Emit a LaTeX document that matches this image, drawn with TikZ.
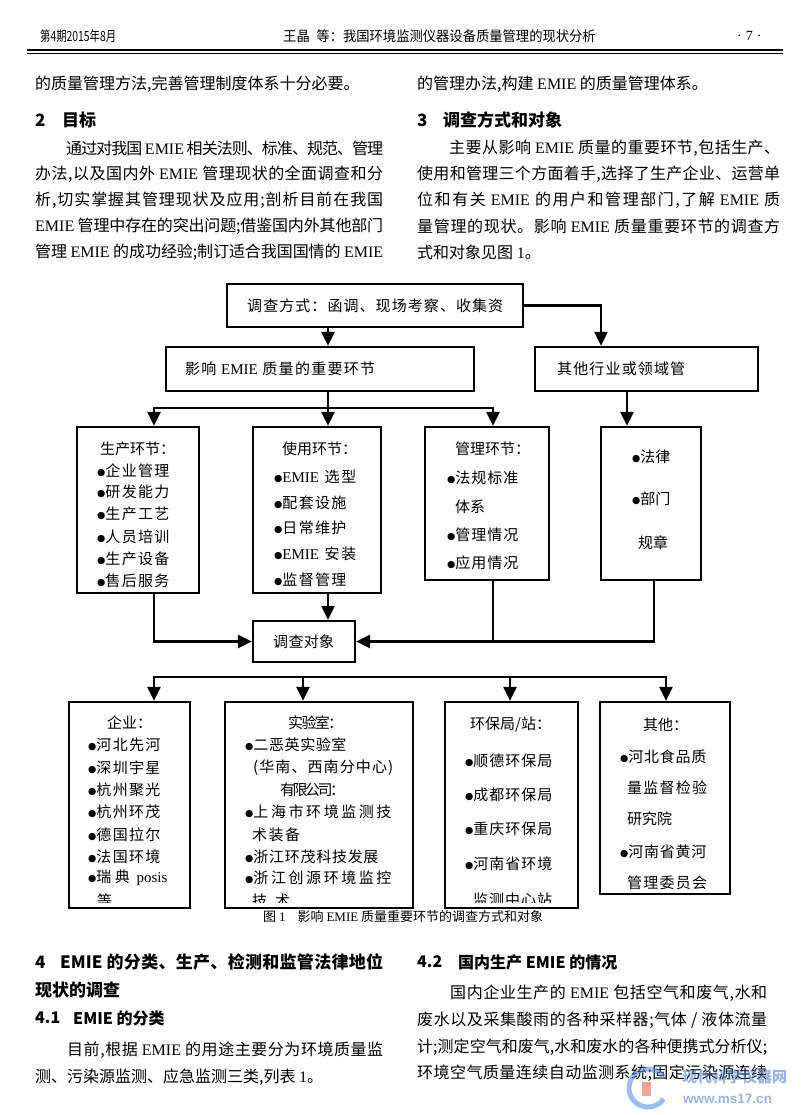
\documentclass[tikz,border=0pt]{standalone}
\usepackage{fontspec}
\setmainfont{Liberation Serif}
\newfontfamily\cjk{Noto Sans CJK SC}
\newfontfamily\dejavu{DejaVu Sans}
\newfontfamily\lsans{Liberation Sans}
\usetikzlibrary{arrows.meta}
\newcommand\EM{{\rmfamily EMIE}}
\newcommand\bul{\raisebox{1.2pt}{\dejavu\fontsize{9.5pt}{10pt}\selectfont ●}}
\def\jlfirst#1{{#1}\jlrest}
\def\jlrest#1{\ifx\relax#1\else\hskip0pt plus1fil minus1fil{#1}\expandafter\jlrest\fi}
\newcommand\jl[2]{\hbox to #1{\jlfirst#2\relax}}
\newcommand\bi[2]{\bul\jl{#1}{#2}}
\tikzset{
  bx/.style={draw, line width=2.2pt, inner sep=0pt},
  arr/.style={line width=2.6pt, -{Triangle[width=13pt,length=14pt]}},
  ln/.style={line width=2.6pt},
  dt/.style={anchor=west, inner sep=0pt, font=\cjk\fontsize{15pt}{18pt}\selectfont},
  bt/.style={anchor=west, inner sep=0pt, font=\cjk\fontsize{16pt}{19pt}\selectfont},
  hd/.style={anchor=west, inner sep=0pt, font=\cjk\bfseries\fontsize{17pt}{20pt}\selectfont},
  hs/.style={anchor=west, inner sep=0pt, font=\cjk\bfseries\fontsize{16pt}{19pt}\selectfont},
  hdr/.style={anchor=west, inner sep=0pt, font=\cjk\fontsize{14pt}{16pt}\selectfont},
}
\begin{document}
\begin{tikzpicture}[x=1pt,y=-1pt]
\useasboundingbox (0,0) rectangle (800,1115);
\fill[white] (0,0) rectangle (800,1115);

% ---------- running header ----------
\node[hdr] (hl) at (40,36) {\scalebox{0.74}[1]{第4期2015年8月}};
\node[hdr] (hm) at (283,36) {\scalebox{0.95}[1]{王晶\hspace{7pt}等：我国环境监测仪器设备质量管理的现状分析}};
\node[hdr, font=\rmfamily\fontsize{14pt}{16pt}\selectfont] (hr) at (737,36) {·\hspace{4pt}7\hspace{4pt}·};
\draw[line width=2pt] (27,50) -- (783,50);
\draw[line width=0.8pt] (27,53.5) -- (783,53.5);

% ---------- top text ----------
\node[bt] (l0) at (35,84) {的质量管理方法,完善管理制度体系十分必要。};
\node[hd] (l2n) at (35,120) {2};
\node[hd] (l2t) at (62,120) {目标};
\node[bt] (l1) at (66,148) {\jl{317pt}{通过对我国{\ \EM\ }相关法则、标准、规范、管理}};
\node[bt] (l2) at (35,174) {\jl{348pt}{办法,以及国内外{\ \EM\ }管理现状的全面调查和分}};
\node[bt] (l3) at (35,200) {\jl{348pt}{析,切实掌握其管理现状及应用;剖析目前在我国}};
\node[bt] (l4) at (35,226) {\jl{348pt}{{\EM\ }管理中存在的突出问题;借鉴国内外其他部门}};
\node[bt] (l5) at (35,252) {\jl{348pt}{管理{\ \EM\ }的成功经验;制订适合我国国情的{\ \EM}}};

\node[bt] (r0) at (417,84) {的管理办法,构建 \EM{} 的质量管理体系。};
\node[hd] (r3n) at (417,120) {3};
\node[hd] (r3t) at (443,120) {调查方式和对象};
\node[bt] (r1) at (449,148) {\jl{331pt}{主要从影响{\ \EM\ }质量的重要环节,包括生产、}};
\node[bt] (r2) at (417,174) {\jl{363pt}{使用和管理三个方面着手,选择了生产企业、运营单}};
\node[bt] (r3) at (417,200) {\jl{363pt}{位和有关{\ \EM\ }的用户和管理部门,了解{\ \EM\ }质}};
\node[bt] (r4) at (417,226) {\jl{363pt}{量管理的现状。影响{\ \EM\ }质量重要环节的调查方}};
\node[bt] (r5) at (417,252) {式和对象见图 {\rmfamily 1}。};

% ---------- diagram boxes ----------
\node[bx, minimum width=296pt, minimum height=43pt] (A) at (375,305.5) {};
\node[bx, minimum width=308pt, minimum height=44pt] (B) at (320,369) {};
\node[bx, minimum width=223pt, minimum height=44pt] (C) at (646.5,369) {};
\node[bx, minimum width=122pt, minimum height=166pt] (D1) at (138,510) {};
\node[bx, minimum width=128pt, minimum height=166pt] (D2) at (317,510) {};
\node[bx, minimum width=124pt, minimum height=153pt] (D3) at (487,503.5) {};
\node[bx, minimum width=100pt, minimum height=153pt] (D4) at (651,503.5) {};
\node[bx, minimum width=102pt, minimum height=41pt] (E) at (304,641.5) {};
\node[bx, minimum width=121pt, minimum height=206pt] (F1) at (129.5,805) {};
\node[bx, minimum width=188pt, minimum height=206pt] (F2) at (319,805) {};
\node[bx, minimum width=133pt, minimum height=206pt] (F3) at (511.5,805) {};
\node[bx, minimum width=130pt, minimum height=192pt] (F4) at (665,798) {};

% ---------- diagram texts ----------
\node[dt] (at) at (247,305.5) {\jl{256pt}{调查方式：函调、现场考察、收集资}};
\node[dt] (bt) at (185,369) {\jl{190pt}{影响{\ \EM\ }质量的重要环节}};
\node[dt] (ct) at (557,369) {\jl{128pt}{其他行业或领域管}};

\node[dt] (d1h) at (100,449) {生产环节：};
\node[dt] (d1a) at (97,471) {\bi{64pt}{企业管理}};
\node[dt] (d1b) at (97,492) {\bi{64pt}{研发能力}};
\node[dt] (d1c) at (97,514) {\bi{64pt}{生产工艺}};
\node[dt] (d1d) at (97,537) {\bi{64pt}{人员培训}};
\node[dt] (d1e) at (97,559) {\bi{64pt}{生产设备}};
\node[dt] (d1f) at (97,581) {\bi{64pt}{售后服务}};

\node[dt] (d2h) at (282,449) {使用环节：};
\node[dt] (d2a) at (274,477) {\bi{74pt}{{\EM\ }选型}};
\node[dt] (d2b) at (274,503) {\bi{64pt}{配套设施}};
\node[dt] (d2c) at (274,528) {\bi{64pt}{日常维护}};
\node[dt] (d2d) at (274,554) {\bi{74pt}{{\EM\ }安装}};
\node[dt] (d2e) at (274,580) {\bi{64pt}{监督管理}};

\node[dt] (d3h) at (455,449) {管理环节：};
\node[dt] (d3a) at (447,478) {\bi{63pt}{法规标准}};
\node[dt] (d3b) at (455,507) {体系};
\node[dt] (d3c) at (447,535) {\bi{63pt}{管理情况}};
\node[dt] (d3d) at (447,563) {\bi{63pt}{应用情况}};

\node[dt] (d4a) at (632,457) {\bul 法律};
\node[dt] (d4b) at (632,499) {\bul 部门};
\node[dt] (d4c) at (638,543) {规章};

\node[dt] (et) at (273,642) {\jl{61pt}{调查对象}};

\node[dt] (f1h) at (107,723) {企业：};
\node[dt] (f1a) at (88,745) {\bi{64pt}{河北先河}};
\node[dt] (f1b) at (88,768) {\bi{64pt}{深圳宇星}};
\node[dt] (f1c) at (88,790) {\bi{64pt}{杭州聚光}};
\node[dt] (f1d) at (88,812) {\bi{64pt}{杭州环茂}};
\node[dt] (f1e) at (88,835) {\bi{64pt}{德国拉尔}};
\node[dt] (f1f) at (88,857) {\bi{64pt}{法国环境}};
\node[dt] (f1g) at (88,878) {\bi{71pt}{瑞典{\ \rmfamily posis}}};

\node[dt] (f2h) at (288,723) {\jl{55pt}{实验室：}};
\node[dt] (f2a) at (245,745) {\bi{93pt}{二恶英实验室}};
\node[dt] (f2b) at (253,768) {\jl{140pt}{(华南、西南分中心)}};
\node[dt] (f2c) at (280,790) {\jl{65pt}{有限公司：}};
\node[dt] (f2d) at (245,812) {\bi{138pt}{上海市环境监测技}};
\node[dt] (f2e) at (252,835) {\jl{48pt}{术装备}};
\node[dt] (f2f) at (245,857) {\bi{125pt}{浙江环茂科技发展}};
\node[dt] (f2g) at (245,878) {\bi{138pt}{浙江创源环境监控}};

\node[dt] (f3h) at (470,725) {环保局/站：};
\node[dt] (f3a) at (465,761) {\bi{79pt}{顺德环保局}};
\node[dt] (f3b) at (465,795) {\bi{79pt}{成都环保局}};
\node[dt] (f3c) at (465,829) {\bi{79pt}{重庆环保局}};
\node[dt] (f3d) at (465,864) {\bi{79pt}{河南省环境}};

\node[dt] (f4h) at (643,725) {其他：};
\node[dt] (f4a) at (620,757) {\bi{78pt}{河北食品质}};
\node[dt] (f4b) at (627,788) {\jl{80pt}{量监督检验}};
\node[dt] (f4c) at (627,819) {研究院};
\node[dt] (f4d) at (620,852) {\bi{78pt}{河南省黄河}};
\node[dt] (f4e) at (627,883) {\jl{80pt}{管理委员会}};

\begin{scope}
\clip (60,880) rectangle (740,902.5);
\node[dt] (f1i) at (97,901) {等};
\node[dt] (f2i) at (252,901) {\jl{38pt}{技术}};
\node[dt] (f3e) at (473,900) {\jl{79pt}{监测中心站}};
\end{scope}

\node[anchor=west, inner sep=0pt, font=\cjk\fontsize{13pt}{15pt}\selectfont] (cap) at (263,917)
  {图 {\rmfamily 1}\hspace{12pt}影响 \EM{} 质量重要环节的调查方式和对象};

% ---------- connectors ----------
\coordinate (xa) at (328,0);
\coordinate (xc) at (601,0);
\coordinate (ja) at (328,408);
\coordinate (x1) at (154,0);
\coordinate (x3) at (493,0);
\coordinate (x4) at (627,0);
\coordinate (x4b) at (654,0);
\coordinate (kb) at (303,677);
\coordinate (k3) at (510,0);
\coordinate (k4) at (666,0);

\draw[arr] (A.south -| xa) -- (B.north -| xa);
\draw[arr] (A.east) -| (C.north -| xc);
\draw[arr] (B.south -| xa) -- (D2.north -| xa);
\draw[arr] (ja) -| (D1.north -| x1);
\draw[arr] (ja) -| (D3.north -| x3);
\draw[arr] (C.south -| x4) -- (D4.north -| x4);
\draw[arr] (D1.south -| x1) |- (E.west);
\draw[arr] (D2.south -| xa) -- (E.north -| xa);
\draw[arr] (D4.south -| x4b) |- (E.east);
\draw[ln] (D3.south -| x3) -- (x3 |- E.east);
\draw[arr] (kb) -| (F1.north -| x1);
\draw[arr] (kb) -| (F4.north -| k4);
\draw[arr] (kb) -- (F2.north -| kb);
\draw[arr] (k3 |- kb) -- (F3.north -| k3);

% ---------- bottom text ----------
\node[hd] (b4n) at (35,962) {4};
\node[hd] (b4t) at (60,962) {\jl{323pt}{{EMIE\ }的分类、生产、检测和监管法律地位}};
\node[hd] (b4u) at (35,990) {现状的调查};
\node[hs] (b41n) at (35,1018) {4.1};
\node[hs] (b41t) at (73,1018) {EMIE 的分类};
\node[bt] (b1) at (67,1050) {\jl{316pt}{目前,根据{\ \EM\ }的用途主要分为环境质量监}};
\node[bt] (b2) at (35,1077) {测、污染源监测、应急监测三类,列表 {\rmfamily 1}。};

\node[hs] (c42n) at (417,962) {4.2};
\node[hs] (c42t) at (458,962) {国内生产 EMIE 的情况};
\node[bt] (c1) at (450,993) {\jl{317pt}{国内企业生产的{\ \EM\ }包括空气和废气,水和}};
\node[bt] (c2) at (417,1020) {\jl{350pt}{废水以及采集酸雨的各种采样器;气体{\ /\ }液体流量}};
\node[bt] (c3) at (417,1047) {\jl{350pt}{计;测定空气和废气,水和废水的各种便携式分析仪;}};
\node[bt] (c4) at (417,1073) {\jl{350pt}{环境空气质量连续自动监测系统;固定污染源连续}};

% ---------- watermark (semi-transparent, over the text as in the scan) ----------
\begin{scope}[opacity=0.55]
\draw[line width=5pt, color={rgb,255:red,80;green,135;blue,215}] (648,1088) ++(35:19) arc[start angle=35, end angle=325, radius=19];
\fill[color={rgb,255:red,230;green,90;blue,60}] (642,1082) rectangle (651,1096);
\node[anchor=west, inner sep=0pt, font=\cjk\bfseries\fontsize{15pt}{17pt}\selectfont, color={rgb,255:red,70;green,120;blue,205}] (w1) at (682,1077) {现代科学仪器网};
\node[anchor=west, inner sep=0pt, font=\lsans\bfseries\fontsize{13.5pt}{16pt}\selectfont, color={rgb,255:red,70;green,120;blue,205}] (w2) at (683,1099) {www.ms17.cn};
\end{scope}
\end{tikzpicture}
\end{document}
